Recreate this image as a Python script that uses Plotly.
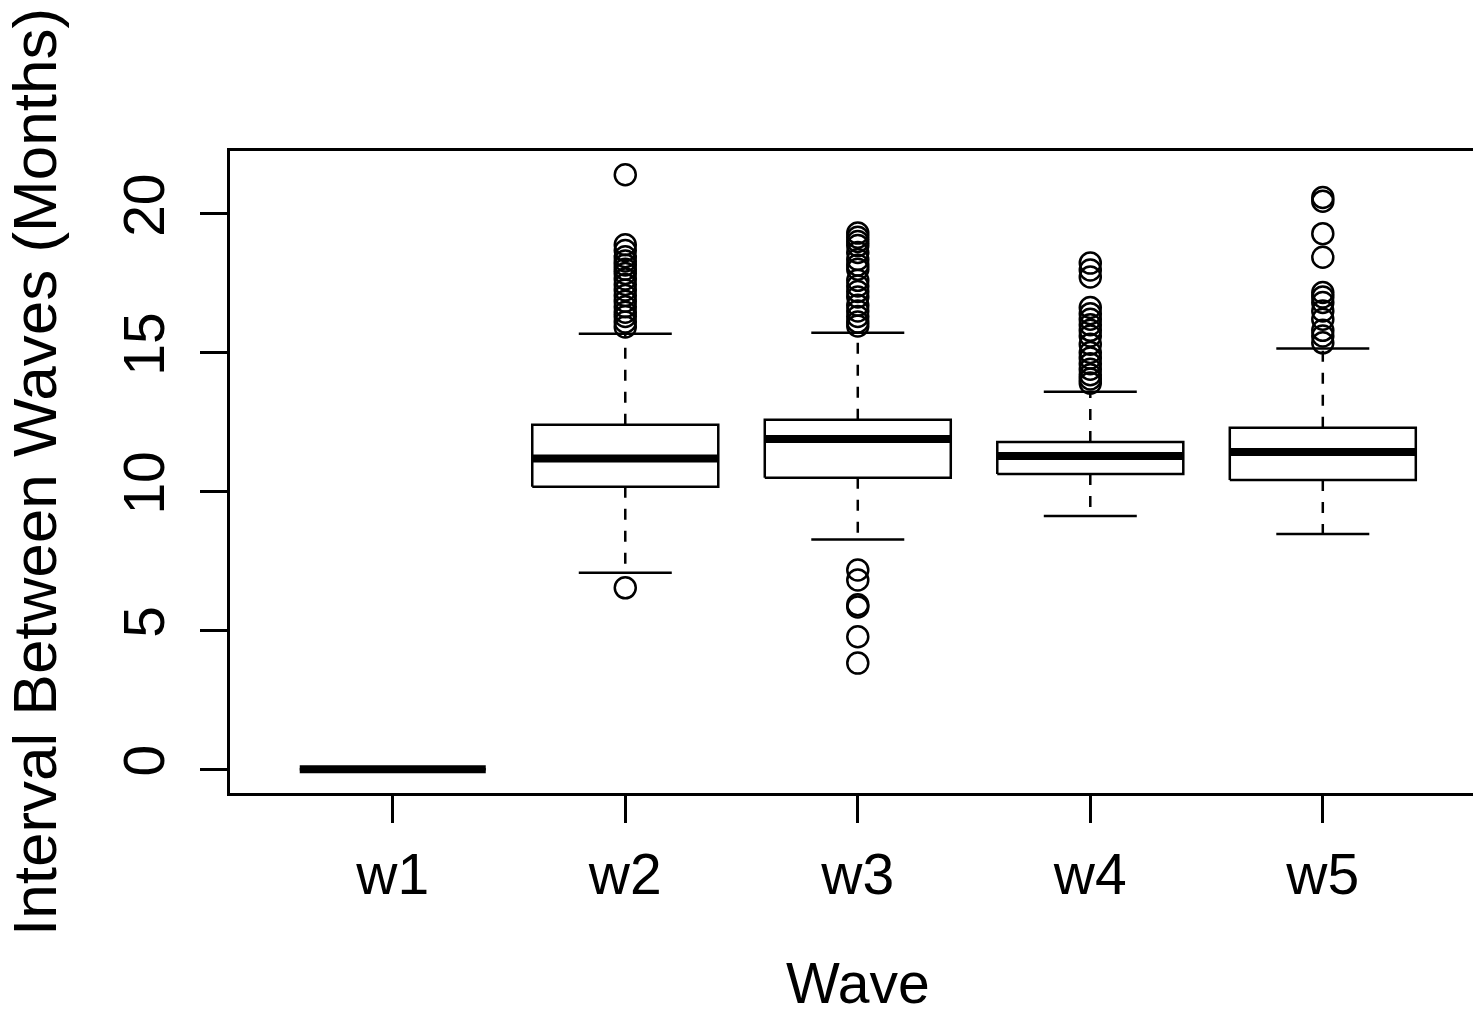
import plotly.graph_objects as go

# ---- data ----
waves = ["w1", "w2", "w3", "w4", "w5"]
lower_whisker = [0.0, 7.07, 8.27, 9.12, 8.47]
q1 = [0.0, 10.17, 10.49, 10.63, 10.41]
median = [0.0, 11.19, 11.89, 11.28, 11.42]
q3 = [0.0, 12.40, 12.58, 11.78, 12.29]
upper_whisker = [0.0, 15.68, 15.71, 13.59, 15.15]

outliers_w1 = []
outliers_w2 = [21.40, 18.88, 18.67, 18.45, 18.30, 18.15, 18.00, 17.85, 17.65,
               17.45, 17.25, 17.05, 16.85, 16.65, 16.45, 16.30, 16.10, 15.92, 6.53]
outliers_w3 = [19.30, 19.15, 19.00, 18.85, 18.60, 18.35, 18.15, 18.00, 17.60,
               17.40, 17.20, 17.00, 16.70, 16.50, 16.30, 16.10, 15.96,
               7.17, 6.81, 5.92, 5.84, 4.77, 3.82]
outliers_w4 = [18.22, 17.97, 17.72, 16.62, 16.40, 16.20, 16.00, 15.80, 15.60,
               15.30, 15.00, 14.80, 14.60, 14.40, 14.20, 14.05, 13.90]
outliers_w5 = [20.58, 20.45, 19.28, 18.43, 17.16, 17.00, 16.80, 16.50, 16.20,
               15.80, 15.60, 15.35]
outliers = [outliers_w1, outliers_w2, outliers_w3, outliers_w4, outliers_w5]

x_title = "Wave"
y_title = "Interval Between Waves (Months)"

# ---- styling ----
FONT = "Liberation Sans, Arial, sans-serif"
FS = 57
FS_YTITLE = 62
BOX_HALF = 0.4
STAPLE_HALF = 0.2

xpos = list(range(1, len(waves) + 1))

box_x, box_y = [], []
med_x, med_y = [], []
wh_x, wh_y = [], []
st_x, st_y = [], []
out_x, out_y = [], []
for i, p in enumerate(xpos):
    box_x += [p - BOX_HALF, p + BOX_HALF, p + BOX_HALF, p - BOX_HALF, p - BOX_HALF, None]
    box_y += [q1[i], q1[i], q3[i], q3[i], q1[i], None]
    med_x += [p - BOX_HALF, p + BOX_HALF, None]
    med_y += [median[i], median[i], None]
    wh_x += [p, p, None, p, p, None]
    wh_y += [q3[i], upper_whisker[i], None, q1[i], lower_whisker[i], None]
    st_x += [p - STAPLE_HALF, p + STAPLE_HALF, None, p - STAPLE_HALF, p + STAPLE_HALF, None]
    st_y += [upper_whisker[i], upper_whisker[i], None, lower_whisker[i], lower_whisker[i], None]
    out_x += [p] * len(outliers[i])
    out_y += outliers[i]

fig = go.Figure()
fig.add_trace(go.Scatter(x=wh_x, y=wh_y, mode="lines",
                         line=dict(color="black", width=2.5, dash="11px,11px"),
                         hoverinfo="skip", showlegend=False))
fig.add_trace(go.Scatter(x=st_x, y=st_y, mode="lines",
                         line=dict(color="black", width=2.5),
                         hoverinfo="skip", showlegend=False))
fig.add_trace(go.Scatter(x=box_x, y=box_y, mode="lines",
                         line=dict(color="black", width=2.5),
                         fill="toself", fillcolor="white",
                         hoverinfo="skip", showlegend=False))
fig.add_trace(go.Scatter(x=med_x, y=med_y, mode="lines",
                         line=dict(color="black", width=8),
                         hoverinfo="skip", showlegend=False))
fig.add_trace(go.Scatter(x=out_x, y=out_y, mode="markers",
                         marker=dict(symbol="circle-open", size=21, color="black",
                                     line=dict(width=2.5, color="black")),
                         showlegend=False))

fig.update_layout(
    width=1473, height=1016,
    margin=dict(l=230, r=0, t=151, b=223),
    paper_bgcolor="white", plot_bgcolor="white",
    font=dict(family=FONT, size=FS, color="black"),
    showlegend=False,
    annotations=[dict(text=x_title, x=xpos[len(xpos) // 2], xref="x",
                      y=0, yref="paper", xanchor="center", yanchor="middle",
                      yshift=-190, showarrow=False,
                      font=dict(family=FONT, size=FS, color="black"))],
)
fig.update_xaxes(
    range=[0.3, 5.646], tickmode="array", tickvals=xpos, ticktext=waves,
    showgrid=False, zeroline=False,
    showline=True, mirror=True, linecolor="black", linewidth=2.5,
    ticks="outside", ticklen=27, tickwidth=2.5, tickcolor="black",
    tickfont=dict(family=FONT, size=FS, color="black"),
    ticklabelstandoff=3,
    automargin=False,
)
fig.update_yaxes(
    range=[-0.856, 22.256], tickmode="array", tickvals=[0, 5, 10, 15, 20],
    ticktext=["0", "5", "10", "15", "20"], tickangle=-90,
    showgrid=False, zeroline=False,
    showline=True, mirror=False, linecolor="black", linewidth=2.5,
    ticks="outside", ticklen=27, tickwidth=2.5, tickcolor="black",
    tickfont=dict(family=FONT, size=FS, color="black"),
    ticklabelstandoff=13,
    title=dict(text=y_title,
               font=dict(family=FONT, size=FS_YTITLE, color="black"), standoff=42),
    automargin=False,
)

fig.write_html("out.html")
